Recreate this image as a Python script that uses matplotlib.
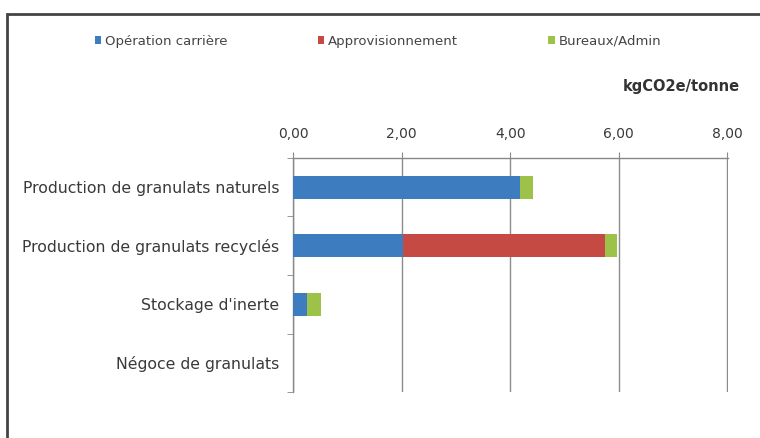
import numpy as np
import matplotlib
matplotlib.use("Agg")
import matplotlib.pyplot as plt
from matplotlib.patches import Rectangle

plt.rcParams['font.family'] = ['DejaVu Sans']

# Data (kgCO2e/tonne)
categories = ['Production de granulats naturels', 'Production de granulats recyclés',
              "Stockage d'inerte", 'Négoce de granulats']
operation = [4.18, 2.03, 0.26, 0.0]
approvisionnement = [0.0, 3.72, 0.0, 0.0]
bureaux = [0.24, 0.22, 0.26, 0.0]
series_names = ['Opération carrière', 'Approvisionnement', 'Bureaux/Admin']
colors = ['#3d7dbf', '#c44a43', '#9cc24a']
xticks = [0, 2, 4, 6, 8]

fig = plt.figure(figsize=(7.6, 4.38), dpi=100)
ax = fig.add_axes([293/760, 1-392/438, (728-293)/760, (392-158)/438])

y = np.arange(len(categories))
h = 0.4
left = np.zeros(len(categories))
bars = []
for vals, name, c in zip([operation, approvisionnement, bureaux], series_names, colors):
    b = ax.barh(y, vals, height=h, left=left, color=c, label=name, zorder=3)
    bars.append(b)
    left = left + np.array(vals)

# a hair past 8 so the last gridline is not clipped
ax.set_xlim(0, 8.01)
ax.set_ylim(len(categories) - 0.5, -0.5)
ax.xaxis.tick_top()
ax.set_xticks(xticks)
ax.set_xticklabels([('%.2f' % v).replace('.', ',') for v in xticks])
ax.tick_params(axis='x', direction='out', length=4, color='#888888', labelsize=10,
               labelcolor='#3a3a3a', pad=8)
ax.set_yticks(y)
ax.set_yticklabels(categories)
ax.set_yticks(np.arange(-0.5, len(categories), 1), minor=True)
ax.tick_params(axis='y', which='major', length=0, pad=10, labelsize=11.3, labelcolor='#3a3a3a')
ax.tick_params(axis='y', which='minor', direction='out', length=4, color='#888888')
ax.grid(axis='x', color='#8c8c8c', linewidth=1.0, zorder=0)
for s in ['bottom', 'right']:
    ax.spines[s].set_visible(False)
for s in ['top', 'left']:
    ax.spines[s].set_color('#888888')
    ax.spines[s].set_linewidth(1.0)

fig.text(740/760, 1-87/438, 'kgCO2e/tonne', ha='right', va='center',
         fontsize=10.5, fontweight='bold', color='#333333')

fig.legend(handles=bars, labels=series_names, loc='center left',
           bbox_to_anchor=(83/760, 1-41/438), ncol=3, frameon=False,
           fontsize=9.5, handlelength=0.5, handleheight=0.5, handletextpad=0.3,
           columnspacing=6.8, labelcolor='#444444')

# outer chart frame
fig.patches.append(Rectangle((7/760, -0.05), 1.0, 1-14/438 + 0.05, transform=fig.transFigure,
                             fill=False, edgecolor='#444444', linewidth=2.0))

fig.savefig('out.png', dpi=100)
